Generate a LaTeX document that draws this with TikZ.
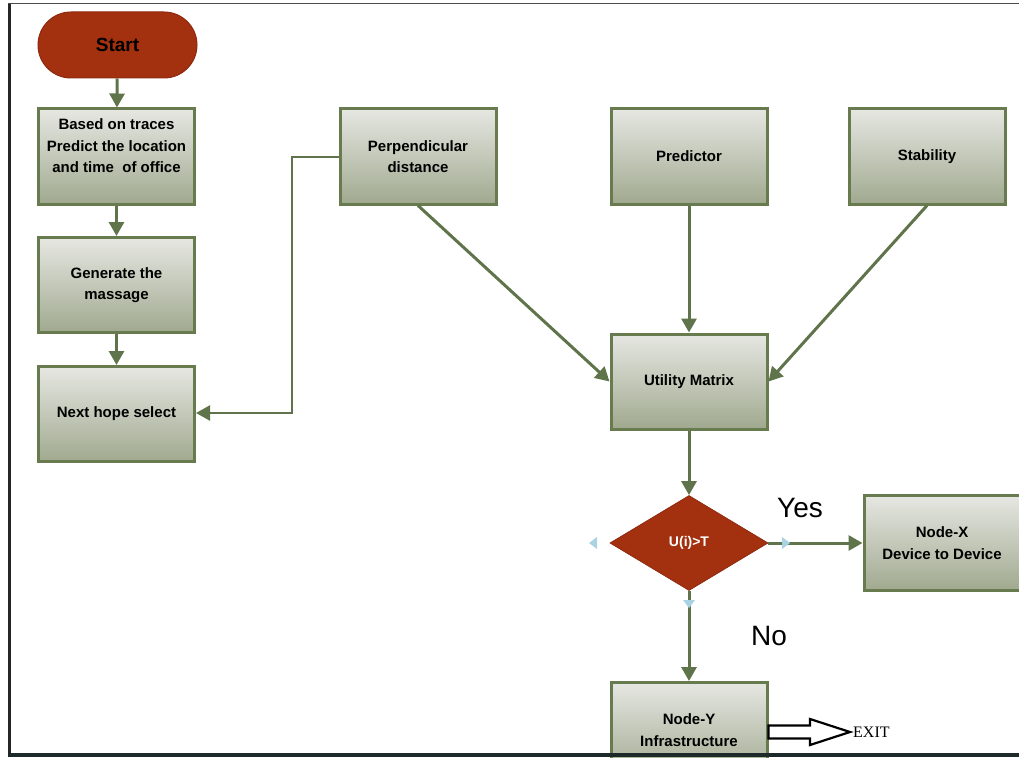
\documentclass[tikz,border=0pt]{standalone}
\usepackage{fontspec}
\setmainfont{Liberation Sans}
\newfontfamily\exitfont{Liberation Serif}
\usetikzlibrary{arrows.meta,shapes.geometric}
\definecolor{boxtop}{HTML}{E6E7E2}
\definecolor{boxbot}{HTML}{A0A98F}
\definecolor{boxline}{HTML}{687B4E}
\definecolor{arrowc}{HTML}{5F744A}
\definecolor{redfill}{HTML}{A3300F}
\definecolor{redline}{HTML}{8E2A10}
\definecolor{tipblue}{HTML}{A9D3E3}
\tikzset{
  procbox/.style={draw=boxline, line width=3pt, top color=boxtop, bottom color=boxbot,
    minimum width=156pt, minimum height=95pt, inner sep=0pt, align=center,
    font=\bfseries\fontsize{15}{21.5}\selectfont},
  conn/.style={draw=arrowc, line width=3pt, -{Triangle[length=14pt,width=15pt]}},
  bigword/.style={font=\fontsize{28}{30}\selectfont, inner sep=0pt},
  tipmark/.style={fill=tipblue, draw=none}
}
\begin{document}
\begin{tikzpicture}[x=1pt,y=-1pt]
\useasboundingbox (0,0) rectangle (1019,757);
\clip (0,0) rectangle (1019,757);
% start
\node[draw=redline, line width=1pt, fill=redfill, rounded corners=33pt,
  minimum width=159pt, minimum height=66pt, inner sep=0pt,
  font=\bfseries\fontsize{19}{22}\selectfont] (start) at (117.5,45) {Start};
% left column
\node[procbox] (b1) at (116.5,156.5) {Based on traces\\Predict the location\\and time\ \ of office\\\mbox{}};
\node[procbox] (b2) at (116.5,285) {Generate the\\massage};
\node[procbox] (b3) at (116.5,414) {Next hope select};
% top row
\node[procbox] (perp) at (418,156.5) {Perpendicular\\distance};
\node[procbox] (pred) at (689,156.5) {Predictor};
\node[procbox] (stab) at (927,156.5) {Stability};
% utility
\node[procbox] (util) at (689,381.5) {Utility Matrix};
% decision
\node[diamond, fill=redfill, draw=redline, line width=0.8pt, minimum width=158pt, minimum height=95pt,
  inner sep=0pt, text=white, font=\bfseries\fontsize{14}{16}\selectfont] (dia) at (689,543) {U(i)>T};
\node[procbox] (nx) at (942,543) {Node-X\\Device to Device};
\node[procbox] (ny) at (689,730) {Node-Y\\Infrastructure};
% connectors
\draw[conn] (start) -- (b1);
\draw[conn] (b1) -- (b2);
\draw[conn] (b2) -- (b3);
\coordinate (bendA) at (292,157);
\coordinate (bendB) at (292,413);
\draw[conn, line width=2.4pt] (perp.west |- bendA) -- (bendA) -- (bendB) -- (b3.east |- bendB);
\draw[conn] (perp.south) -- (util.west);
\draw[conn] (pred.south) -- (util.north);
\draw[conn] (stab.south) -- (util.east);
\draw[conn] (util.south) -- (dia.north);
\draw[conn] (dia.east) -- (nx.west);
\draw[conn] (dia.south) -- (ny.north);
% small blue markers
\fill[tipmark] (589,543) -- (597,537) -- (597,549) -- cycle;
\fill[tipmark] (790,543) -- (782,537) -- (782,549) -- cycle;
\fill[tipmark] (689,608) -- (683,600) -- (695,600) -- cycle;
% yes / no
\node[bigword] (yes) at (800,508) {Yes};
\node[bigword] (no) at (769,636) {No};
% exit arrow
\coordinate (exittip) at (850,732);
\draw[black, line width=2.2pt, fill=white, line join=miter]
  (ny.east |- 0,725.5) -- (810,725.5) -- (810,719) -- (exittip) -- (810,745) -- (810,738.5) -- (ny.east |- 0,738.5) -- cycle;
\node[anchor=west, inner sep=0pt, font=\exitfont\fontsize{16}{18}\selectfont] (exit) at (853,732) {EXIT};
% frame
\draw[line width=3pt, color=black!85] (9.5,3) -- (9.5,756);
\draw[line width=1.5pt, color=black!70] (8,3.5) -- (1019,3.5);
\draw[line width=4pt, color={rgb,255:red,30;green,42;blue,42}] (8,754.5) -- (1019,754.5);
\end{tikzpicture}
\end{document}
